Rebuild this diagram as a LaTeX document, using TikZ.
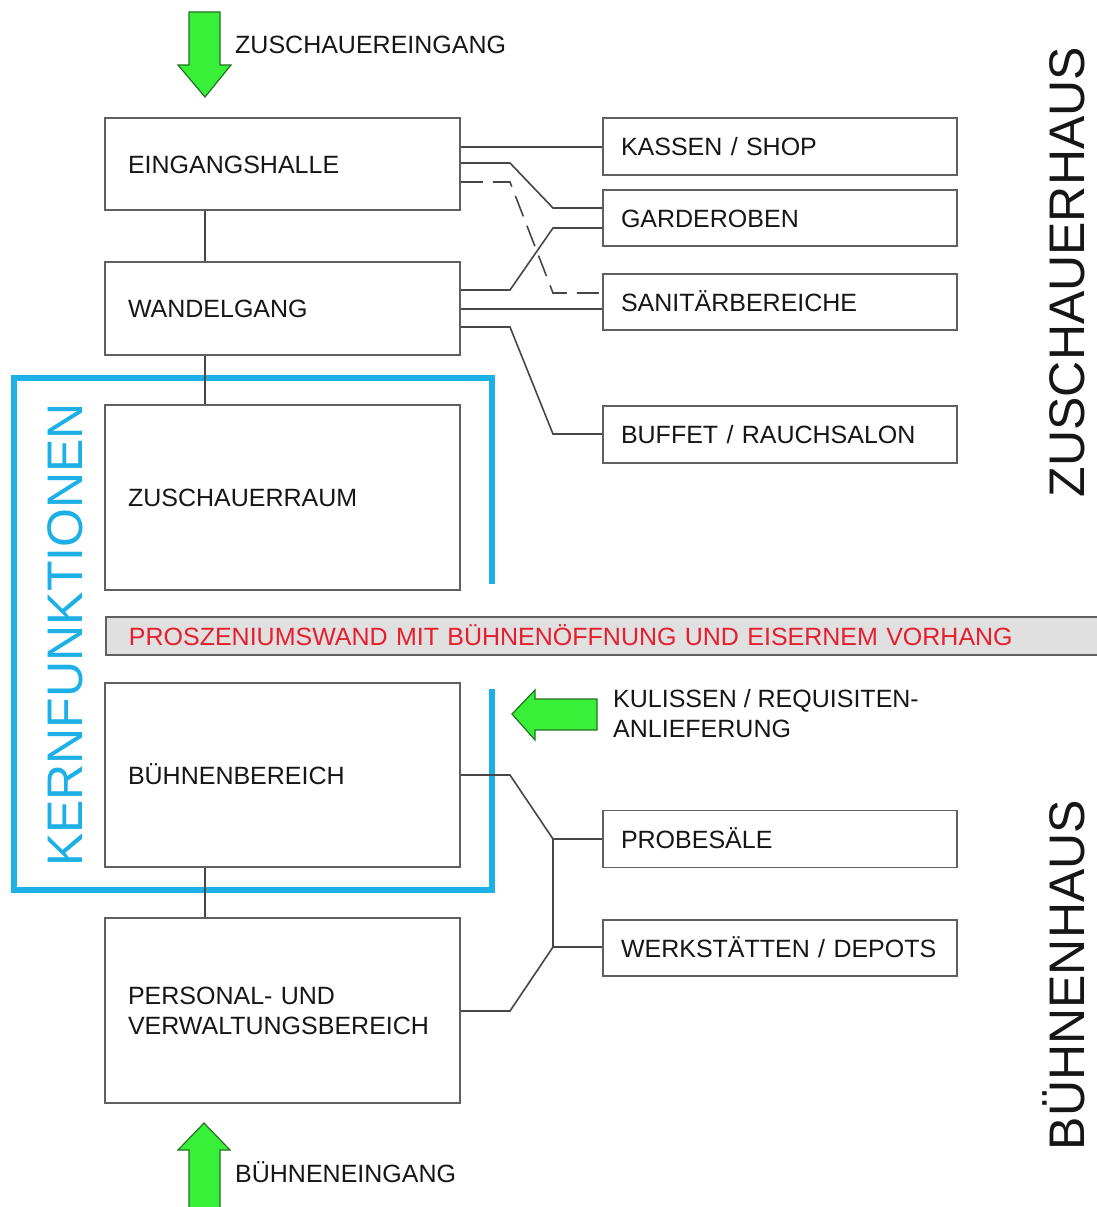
\documentclass[tikz,border=0pt]{standalone}
\usepackage{fontspec}
\setmainfont{Liberation Sans}
\definecolor{boxline}{RGB}{96,96,96}
\definecolor{conline}{RGB}{70,70,70}
\definecolor{kernblue}{RGB}{28,176,230}
\definecolor{wallgray}{RGB}{224,224,224}
\definecolor{wallred}{RGB}{230,30,46}
\definecolor{arrowgreen}{RGB}{55,240,55}
\definecolor{arrowedge}{RGB}{35,115,35}
\definecolor{ink}{RGB}{22,22,22}

\begin{document}
\begin{tikzpicture}[x=1pt,y=-1pt,
  every node/.style={font=\fontsize{25}{30}\selectfont, text=ink},
  oneline/.style={text height=18pt, text depth=0pt},
  room/.style={draw=boxline, line width=1.8pt, fill=white, inner xsep=23pt,
    inner ysep=0pt, align=left, text width=309pt, minimum width=355pt},
  side/.style={room, inner xsep=18pt, text width=318pt, minimum width=354pt,
    minimum height=57pt, oneline},
  link/.style={draw=conline, line width=1.6pt},
  gap/.style={dash pattern=on 22pt off 10pt},
  kern/.style={draw=kernblue, line width=6pt},
  greenarrow/.style={fill=arrowgreen, draw=arrowedge, line width=1.2pt, line join=miter},
  label/.style={anchor=west, inner sep=0pt, oneline},
  housetitle/.style={rotate=90, inner sep=0pt, font=\fontsize{50}{60}\selectfont,
    text height=36pt, text depth=0pt}
]
\useasboundingbox (0,0) rectangle (1096,1207);

% core-function frame
\draw[kern] (492,584) -- (492,378) -- (14,378) -- (14,890) -- (492,890) -- (492,689);
\node[housetitle, text=kernblue] (kernlabel) at (64,635) {KERNFUNKTIONEN};

% main sequence of rooms
\node[room, oneline, minimum height=92pt] (eh) at (282.5,164) {EINGANGSHALLE};
\node[room, oneline, minimum height=93pt] (wg) at (282.5,308.5) {WANDELGANG};
\node[room, oneline, minimum height=185pt] (zr) at (282.5,497.5) {ZUSCHAUERRAUM};
\node[room, oneline, minimum height=184pt] (bb) at (282.5,775) {BÜHNENBEREICH};
\node[room, minimum height=185pt] (pv) at (282.5,1010.5) {PERSONAL- UND\\VERWALTUNGSBEREICH};

% proscenium wall
\node[draw=boxline, line width=1.8pt, fill=wallgray, text=wallred, anchor=west,
  minimum width=1010pt, minimum height=38pt, inner xsep=23pt, inner ysep=0pt,
  align=left, text width=964pt, oneline] (wall) at (105,636)
  {PROSZENIUMSWAND MIT BÜHNENÖFFNUNG UND EISERNEM VORHANG};

% side rooms
\node[side] (ks) at (780,146.5) {KASSEN / SHOP};
\node[side, minimum height=56pt] (gd) at (780,218) {GARDEROBEN};
\node[side, minimum height=56pt] (sn) at (780,302) {SANITÄRBEREICHE};
\node[side] (bf) at (780,434.5) {BUFFET / RAUCHSALON};
\node[side] (pb) at (780,839) {PROBESÄLE};
\node[side, minimum height=56pt] (wk) at (780,948) {WERKSTÄTTEN / DEPOTS};

% spine between the main rooms
\coordinate (spine) at (205,0);
\draw[link] (eh.south -| spine) -- (wg.north -| spine);
\draw[link] (wg.south -| spine) -- (zr.north -| spine);
\draw[link] (bb.south -| spine) -- (pv.north -| spine);

% bend points of the branch lines
\coordinate (k0) at (553,147);
\coordinate (e2) at (510,163);  \coordinate (g1) at (553,208);
\coordinate (e3) at (510,182);  \coordinate (s1) at (553,293);
\coordinate (w1) at (510,290);  \coordinate (g2) at (553,228);
\coordinate (s2) at (553,309);
\coordinate (w3) at (510,327);  \coordinate (b1) at (553,434);
\coordinate (k1) at (510,775);  \coordinate (k2) at (553,839);
\coordinate (k3) at (553,947);  \coordinate (k4) at (510,1011);

% front-of-house branches
\draw[link] (eh.east |- k0) -- (ks.west |- k0);
\draw[link] (eh.east |- e2) -- (e2) -- (g1) -- (gd.west |- g1);
\draw[link, gap] (eh.east |- e3) -- (e3) -- (s1) -- (sn.west |- s1);
\draw[link] (wg.east |- w1) -- (w1) -- (g2) -- (gd.west |- g2);
\draw[link] (wg.east |- s2) -- (sn.west |- s2);
\draw[link] (wg.east |- w3) -- (w3) -- (b1) -- (bf.west |- b1);

% back-of-house branches
\draw[link] (bb.east) -- (k1) -- (k2) -- (k3) -- (k4) -- (pv.east |- k4);
\draw[link] (k2) -- (pb.west);
\draw[link] (k3) -- (wk.west |- k3);

% entrances
\draw[greenarrow] (189,12) -- (220,12) -- (220,65) -- (231,65) -- (205,97)
  -- (178,65) -- (189,65) -- cycle;
\node[label] (zein) at (235,45) {ZUSCHAUEREINGANG};

\draw[greenarrow] (189,1212) -- (189,1150) -- (178,1150) -- (204,1123)
  -- (230,1150) -- (220,1150) -- (220,1212) -- cycle;
\node[label] (bein) at (235,1173) {BÜHNENEINGANG};

\draw[greenarrow] (597,699) -- (535,699) -- (535,690) -- (512,714)
  -- (535,740) -- (535,730) -- (597,730) -- cycle;
\node[anchor=north west, inner sep=0pt, align=left] (kul) at (613,689)
  {KULISSEN / REQUISITEN-\\ANLIEFERUNG};

% building parts
\node[housetitle] (zh) at (1066,272) {ZUSCHAUERHAUS};
\node[housetitle] (bh) at (1066,975) {BÜHNENHAUS};
\end{tikzpicture}
\end{document}
